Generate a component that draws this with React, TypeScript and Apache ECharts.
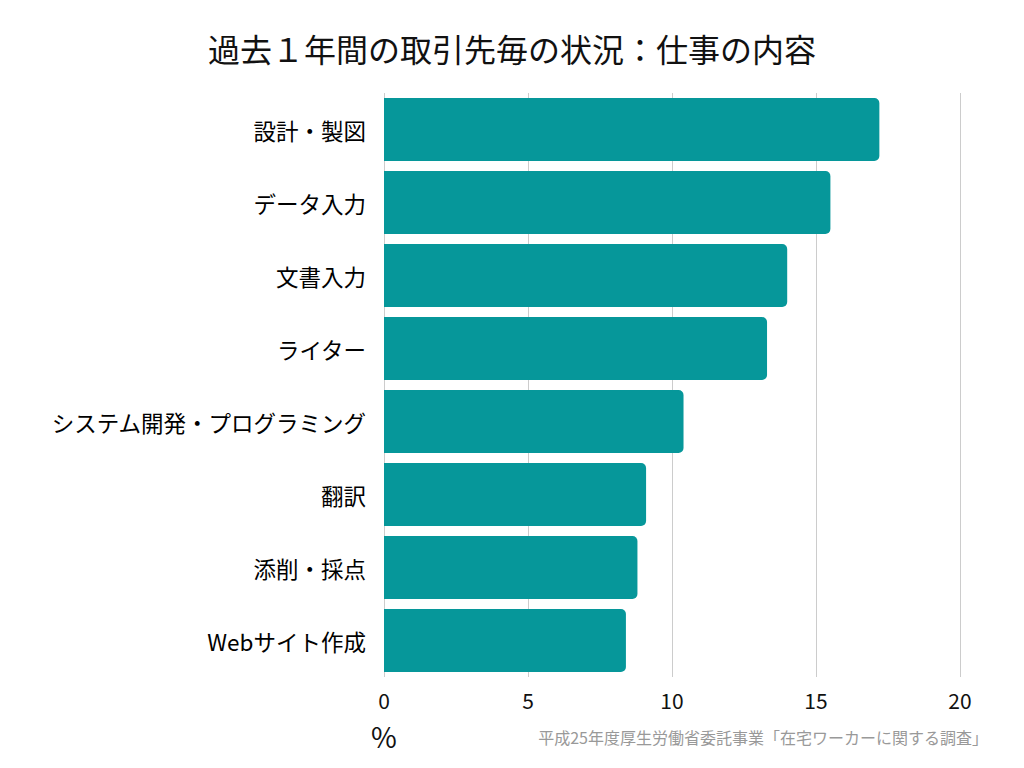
import React, { useEffect, useRef } from "react";
import * as echarts from "echarts";

const categories = [
  "設計・製図",
  "データ入力",
  "文書入力",
  "ライター",
  "システム開発・プログラミング",
  "翻訳",
  "添削・採点",
  "Webサイト作成",
];
const values = [17.2, 15.5, 14.0, 13.3, 10.4, 9.1, 8.8, 8.4];
const xTicks = [0, 5, 10, 15, 20];

const FONT = "'Noto Sans CJK JP', 'Noto Sans', sans-serif";

export default function App() {
  const ref = useRef<HTMLDivElement>(null);
  useEffect(() => {
    if (!ref.current) return;
    const chart = echarts.init(ref.current, null, { renderer: "svg" });
    chart.setOption({
      animation: false,
      backgroundColor: "#ffffff",
      title: {
        text: "過去１年間の取引先毎の状況：仕事の内容",
        left: "center",
        top: 27,
        textStyle: { fontFamily: FONT, fontSize: 32, fontWeight: "normal", color: "#111" },
      },
      grid: { left: 384, right: 64, top: 93, bottom: 91, containLabel: false },
      xAxis: {
        type: "value",
        min: xTicks[0],
        max: xTicks[xTicks.length - 1],
        interval: 5,
        axisLine: { show: false },
        axisTick: { show: false },
        splitLine: { show: true, lineStyle: { color: "#cccccc", width: 1 } },
        axisLabel: {
          fontFamily: FONT,
          fontSize: 21,
          color: "#111",
          margin: 12,
          formatter: (v: number) => (xTicks.includes(v) ? String(v) : ""),
        },
      },
      yAxis: {
        type: "category",
        data: categories,
        inverse: true,
        axisLine: { show: false },
        axisTick: { show: false },
        axisLabel: {
          fontFamily: FONT,
          fontSize: 22.5,
          fontWeight: "normal",
          color: "#000",
          margin: 18,
        },
      },
      series: [
        {
          type: "bar",
          data: values,
          barCategoryGap: "13.7%",
          itemStyle: { color: "#06979a", borderRadius: [0, 5, 5, 0] },
        },
      ],
      graphic: [
        {
          type: "text",
          left: 371,
          top: 722,
          style: { text: "%", fontFamily: FONT, fontSize: 28, fill: "#111" },
        },
        {
          type: "text",
          right: 36,
          top: 729,
          style: {
            text: "平成25年度厚生労働省委託事業「在宅ワーカーに関する調査」",
            fontFamily: FONT,
            fontSize: 16,
            fill: "#999999",
          },
        },
      ],
    });
    return () => chart.dispose();
  }, []);
  return <div ref={ref} style={{ width: 1024, height: 768, margin: -8 }} />;
}
